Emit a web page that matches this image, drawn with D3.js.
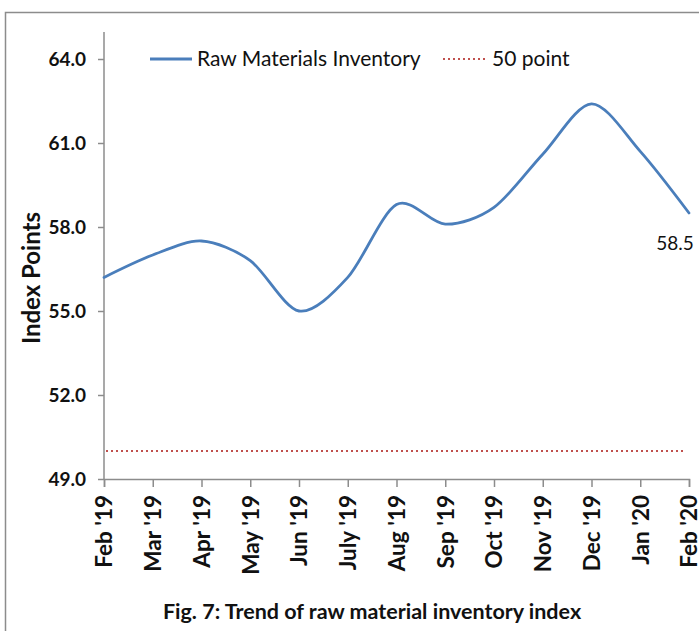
<!DOCTYPE html>
<html>
<head>
<meta charset="utf-8">
<script src="https://cdn.jsdelivr.net/npm/d3@7"></script>
<style>
  body { margin: 0; background: #fff; }
  svg { display: block; font-family: Lato, "Open Sans", sans-serif; }
</style>
</head>
<body>
<script>
// Data
const months = ["Feb '19", "Mar '19", "Apr '19", "May '19", "Jun '19", "July '19",
  "Aug '19", "Sep '19", "Oct '19", "Nov '19", "Dec '19", "Jan '20", "Feb '20"];
const inventory = [56.2, 57.0, 57.5, 56.8, 55.0, 56.2, 58.8, 58.1, 58.7, 60.6, 62.4, 60.7, 58.5];
const threshold = 50;
const yTicks = [49, 52, 55, 58, 61, 64];

const width = 699, height = 631;

const svg = d3.select("body").append("svg")
  .attr("width", width)
  .attr("height", height);

// outer frame
svg.append("rect")
  .attr("x", 5.5).attr("y", 12.5)
  .attr("width", 720).attr("height", 640)
  .attr("fill", "none")
  .attr("stroke", "#8c8c8c")
  .attr("stroke-width", 1.5);

const x = d3.scalePoint()
  .domain(months)
  .range([104, 689]);

const y = d3.scaleLinear()
  .domain([49, 64])
  .range([479, 59]);

// y axis
const yAxis = svg.append("g")
  .attr("transform", "translate(104,0)")
  .call(d3.axisLeft(y).tickValues(yTicks).tickFormat(d3.format(".1f")).tickSizeOuter(0).tickSize(6));
yAxis.select(".domain").attr("stroke", "#8c8c8c").attr("stroke-width", 1.5)
  .attr("d", "M0,479V32");
yAxis.selectAll(".tick line").attr("stroke", "#8c8c8c").attr("stroke-width", 1.5);
yAxis.selectAll(".tick text")
  .attr("x", -18)
  .attr("fill", "#111")
  .style("font-size", "19px")
  .style("font-weight", "bold")
  .style("font-family", "Lato, sans-serif");

// x axis
const xAxis = svg.append("g")
  .attr("transform", "translate(0,479)")
  .call(d3.axisBottom(x).tickSizeOuter(0).tickSize(8));
xAxis.select(".domain").attr("stroke", "#8c8c8c").attr("stroke-width", 1.5);
xAxis.selectAll(".tick line").attr("stroke", "#8c8c8c").attr("stroke-width", 1.5);
xAxis.selectAll(".tick text")
  .attr("transform", "rotate(-90)")
  .attr("x", -16)
  .attr("y", 0)
  .attr("dy", "0.35em")
  .attr("text-anchor", "end")
  .attr("fill", "#111")
  .style("font-size", "22.5px")
  .style("font-weight", "bold")
  .style("font-family", "Lato, sans-serif");

// 50 point line
svg.append("line")
  .attr("x1", x(months[0]) + 2)
  .attr("x2", x(months[months.length - 1]) - 3)
  .attr("y1", y(threshold))
  .attr("y2", y(threshold))
  .attr("stroke", "#c0504d")
  .attr("stroke-width", 2.2)
  .attr("stroke-dasharray", "2 3");

// main series
const line = d3.line()
  .x((d, i) => x(months[i]))
  .y(d => y(d))
  .curve(d3.curveCardinal.tension(0.1));

svg.append("path")
  .datum(inventory)
  .attr("fill", "none")
  .attr("stroke", "#4a7ebb")
  .attr("stroke-width", 2.8)
  .attr("stroke-linecap", "round")
  .attr("d", line);

// end label
svg.append("text")
  .attr("x", x(months[months.length - 1]) - 14)
  .attr("y", y(inventory[inventory.length - 1]) + 37)
  .attr("text-anchor", "middle")
  .style("font-size", "19px")
  .attr("fill", "#111")
  .text(inventory[inventory.length - 1].toFixed(1));

// legend
const legend = svg.append("g");
legend.append("line")
  .attr("x1", 150).attr("x2", 192).attr("y1", 59).attr("y2", 59)
  .attr("stroke", "#4a7ebb").attr("stroke-width", 2.8);
legend.append("text")
  .attr("x", 197).attr("y", 59).attr("dy", "0.35em")
  .style("font-size", "21px").attr("fill", "#111")
  .text("Raw Materials Inventory");
legend.append("line")
  .attr("x1", 443).attr("x2", 486).attr("y1", 59).attr("y2", 59)
  .attr("stroke", "#c0504d").attr("stroke-width", 2.2)
  .attr("stroke-dasharray", "2 3");
legend.append("text")
  .attr("x", 492).attr("y", 59).attr("dy", "0.35em")
  .style("font-size", "21px").attr("fill", "#111")
  .text("50 point");

// y axis title
svg.append("text")
  .attr("transform", "translate(32,278) rotate(-90)")
  .attr("dy", "0.35em")
  .attr("text-anchor", "middle")
  .style("font-size", "24px")
  .style("font-weight", "bold")
  .attr("fill", "#111")
  .text("Index Points");

// caption
svg.append("text")
  .attr("x", 372)
  .attr("y", 619)
  .attr("text-anchor", "middle")
  .style("font-size", "21.5px")
  .style("font-weight", "bold")
  .attr("fill", "#111")
  .text("Fig. 7: Trend of raw material inventory index");
</script>
</body>
</html>
